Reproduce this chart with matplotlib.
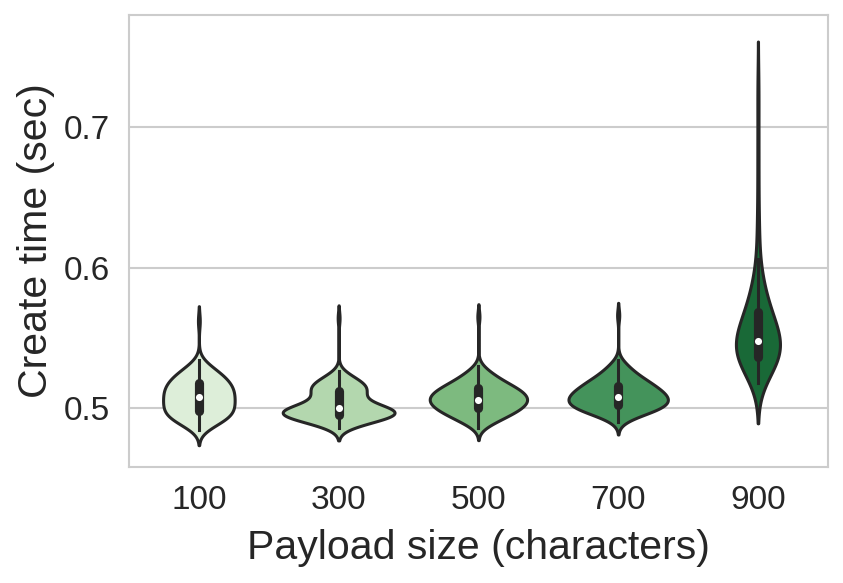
#!/usr/bin/env python3
# -*- coding: utf-8 -*-
"""
Violin plot of create time per payload size (pure matplotlib + numpy KDE)
"""

# =========================
# Imports
# =========================
import colorsys
import matplotlib
matplotlib.use("Agg")
import matplotlib.pyplot as plt
import numpy as np

# =========================
# Data (measured times, stored as value / count pairs)
# =========================
payload_sizes = ["100", "300", "500", "700", "900"]

vals_100 = [0.484, 0.486, 0.488, 0.490, 0.492, 0.494, 0.496, 0.498, 0.500, 0.502,
            0.504, 0.506, 0.508, 0.510, 0.512, 0.514, 0.516, 0.518, 0.520, 0.522,
            0.524, 0.526, 0.528, 0.530, 0.532, 0.534, 0.562]
cnts_100 = [1, 2, 3, 4, 5, 6, 6, 6, 6, 6,
            6, 6, 6, 6, 6, 6, 6, 5, 5, 5,
            4, 3, 3, 2, 1, 1, 1]

vals_300 = [0.486, 0.488, 0.490, 0.492, 0.494, 0.496, 0.498, 0.500, 0.502, 0.504,
            0.506, 0.508, 0.510, 0.512, 0.514, 0.516, 0.518, 0.520, 0.522, 0.524,
            0.526, 0.564]
cnts_300 = [2, 4, 6, 9, 12, 14, 14, 11, 7, 5,
            4, 4, 5, 6, 6, 6, 5, 4, 3, 2,
            1, 1]

vals_500 = [0.486, 0.488, 0.490, 0.492, 0.494, 0.496, 0.498, 0.500, 0.502, 0.504,
            0.506, 0.508, 0.510, 0.512, 0.514, 0.516, 0.518, 0.520, 0.522, 0.524,
            0.526, 0.528, 0.530, 0.565]
cnts_500 = [1, 2, 3, 4, 5, 6, 7, 8, 8, 9,
            9, 9, 8, 8, 7, 6, 5, 4, 3, 3,
            2, 1, 1, 1]

vals_700 = [0.490, 0.492, 0.494, 0.496, 0.498, 0.500, 0.502, 0.504, 0.506, 0.508,
            0.510, 0.512, 0.514, 0.516, 0.518, 0.520, 0.522, 0.524, 0.526, 0.528,
            0.530, 0.532, 0.534, 0.566]
cnts_700 = [1, 2, 3, 5, 7, 8, 9, 9, 9, 9,
            8, 8, 7, 6, 6, 5, 4, 3, 3, 2,
            2, 1, 1, 1]

vals_900 = [0.518, 0.520, 0.524, 0.528, 0.532, 0.536, 0.540, 0.544, 0.548, 0.552,
            0.556, 0.560, 0.564, 0.568, 0.572, 0.576, 0.580, 0.584, 0.588, 0.592,
            0.596, 0.600, 0.606, 0.618, 0.622, 0.635, 0.650, 0.670, 0.690, 0.712,
            0.732]
cnts_900 = [1, 2, 4, 6, 8, 9, 10, 10, 9, 8,
            7, 6, 5, 5, 4, 3, 3, 2, 2, 2,
            1, 1, 1, 1, 1, 1, 1, 1, 1, 1,
            1]

groups = [np.repeat(v, c) for v, c in [(vals_100, cnts_100), (vals_300, cnts_300),
                                        (vals_500, cnts_500), (vals_700, cnts_700),
                                        (vals_900, cnts_900)]]

# =========================
# Style
# =========================
BW = 0.4          # kde bandwidth factor (times std)
CUT = 2
WIDTH = 0.8
LW = 2.2
GRAY = "#262626"
LIGHT = "#cccccc"
SATURATION = 0.75

plt.rcParams["font.family"] = ["Liberation Sans", "DejaVu Sans"]
plt.rcParams["text.color"] = GRAY
plt.rcParams["axes.labelcolor"] = GRAY
plt.rcParams["xtick.color"] = GRAY
plt.rcParams["ytick.color"] = GRAY


def desaturate(rgb, prop):
    h, l, s = colorsys.rgb_to_hls(*rgb[:3])
    return colorsys.hls_to_rgb(h, l, s * prop)


colors = [desaturate(c, SATURATION)
          for c in plt.get_cmap("Greens")(np.linspace(0, 1, 7)[1:-1])]


def kde(data):
    """gaussian kde evaluated over the cut support"""
    data = np.asarray(data)
    bw = BW * data.std(ddof=1)
    grid = np.linspace(data.min() - CUT * bw, data.max() + CUT * bw, 500)
    z = (grid[:, None] - data[None, :]) / bw
    dens = np.exp(-0.5 * z ** 2).sum(axis=1) / (len(data) * bw * np.sqrt(2 * np.pi))
    return grid, dens


# =========================
# Plot
# =========================
fig = plt.figure(figsize=(8.43, 5.83), dpi=100)
ax = fig.add_axes([0.153, 0.199, 0.829, 0.775])

kdes = [kde(g) for g in groups]
max_dens = max(d.max() for _, d in kdes)

for i, (data, (grid, dens), col) in enumerate(zip(groups, kdes, colors)):
    half = dens / max_dens * WIDTH / 2
    ax.fill_betweenx(grid, i - half, i + half, facecolor=col,
                     edgecolor=GRAY, linewidth=LW, zorder=2)
    q25, q50, q75 = np.percentile(data, [25, 50, 75])
    wl = 1.5 * (q75 - q25)
    h1 = data[data >= q25 - wl].min()
    h2 = data[data <= q75 + wl].max()
    ax.plot([i, i], [h1, h2], color=GRAY, linewidth=LW, zorder=3)
    ax.plot([i, i], [q25, q75], color=GRAY, linewidth=LW * 3,
            solid_capstyle="round", zorder=3)
    ax.scatter(i, q50, s=26, color="white", linewidth=0, zorder=4)

ax.set_xlim(-0.5, len(groups) - 0.5)
ax.set_ylim(0.458, 0.7797)
ax.set_xticks(range(len(groups)))
ax.set_xticklabels(payload_sizes)
ax.set_yticks([0.5, 0.6, 0.7])
ax.set_yticklabels(["0.5", "0.6", "0.7"])

ax.grid(axis="y", color=LIGHT, linewidth=1.5, zorder=0)
ax.set_axisbelow(True)
for sp in ax.spines.values():
    sp.set_color(LIGHT)
    sp.set_linewidth(1.5)
ax.tick_params(axis="both", length=0, labelsize=24)
ax.tick_params(axis="y", pad=14)
ax.tick_params(axis="x", pad=13)

ax.set_xlabel("Payload size (characters)", fontsize=29.5, labelpad=9)
ax.set_ylabel("Create time (sec)", fontsize=29.5, labelpad=6)

plt.savefig("out.png", dpi=100)
